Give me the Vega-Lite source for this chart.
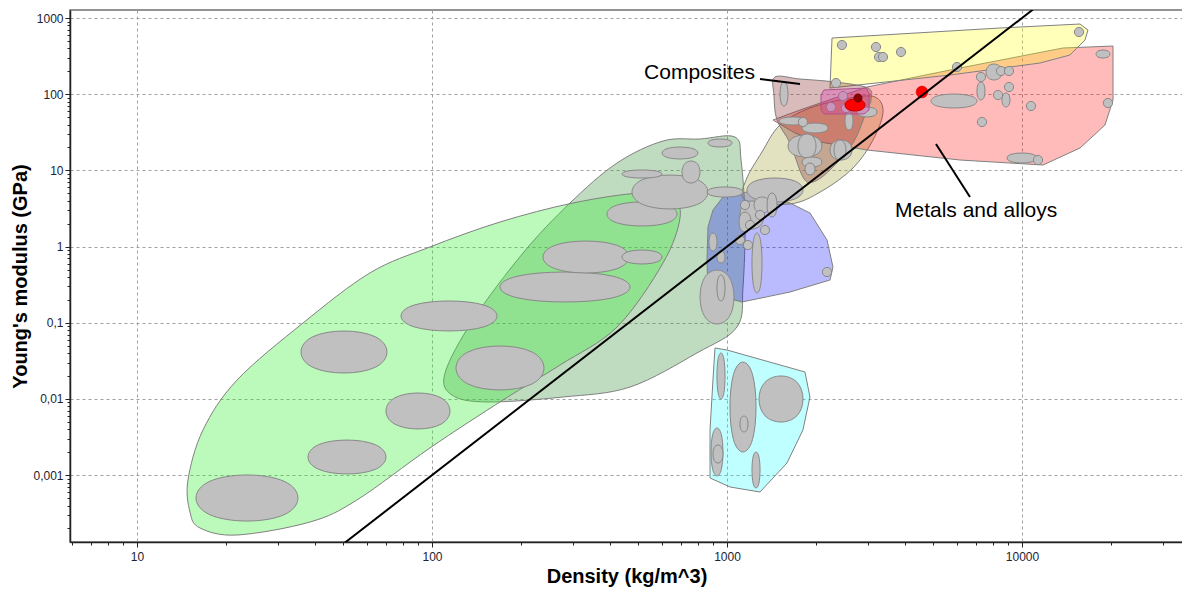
{
"$schema":"https://vega.github.io/schema/vega-lite/v6.json",
"width":1113,"height":532,
"autosize":{"type":"none"},
"padding":{"left":70,"top":10,"right":0,"bottom":47},
"background":"white",
"config":{"view":{"stroke":"#707070","strokeWidth":1.5},
"axis":{"domainColor":"#222","domainWidth":1.5,"tickColor":"#222","labelFont":"Liberation Sans","labelFontSize":12,"labelColor":"#222233","titleFont":"Liberation Sans","titleFontSize":20,"titleFontWeight":"bold","titleColor":"#000","gridColor":"#a0a0a0","gridDash":[3,3],"gridWidth":1,"labelOverlap":false,"labelFlush":false}},
"datasets":{
"regions":[
{"r":"gg","o":1,"x":1064,"y":27.44},{"r":"gg","o":2,"x":810,"y":25.83},{"r":"gg","o":3,"x":607,"y":24.31},{"r":"gg","o":4,"x":423.9,"y":12.51},{"r":"gg","o":5,"x":293.6,"y":3.733},{"r":"gg","o":6,"x":203.5,"y":0.824},{"r":"gg","o":7,"x":137.7,"y":0.109},{"r":"gg","o":8,"x":110.7,"y":0.0219},{"r":"gg","o":9,"x":116.9,"y":0.01127},{"r":"gg","o":10,"x":153.6,"y":0.00914},{"r":"gg","o":11,"x":278,"y":0.01062},{"r":"gg","o":12,"x":469.2,"y":0.01435},{"r":"gg","o":13,"x":791,"y":0.0402},{"r":"gg","o":14,"x":1081,"y":0.0881},{"r":"gg","o":15,"x":1133,"y":0.295},{"r":"gg","o":16,"x":1151,"y":2.234},{"r":"gg","o":17,"x":1116,"y":13.69},
{"r":"foam","o":1,"x":14.89,"y":0.000865},{"r":"foam","o":2,"x":15.12,"y":0.000329},{"r":"foam","o":3,"x":16.35,"y":0.000203},{"r":"foam","o":4,"x":21.83,"y":0.000164},{"r":"foam","o":5,"x":38.59,"y":0.000243},{"r":"foam","o":6,"x":55.68,"y":0.000473},{"r":"foam","o":7,"x":98.45,"y":0.00228},{"r":"foam","o":8,"x":174.1,"y":0.0097},{"r":"foam","o":9,"x":271.6,"y":0.0279},{"r":"foam","o":10,"x":423.9,"y":0.0881},{"r":"foam","o":11,"x":607,"y":0.61},{"r":"foam","o":12,"x":693,"y":2.371},{"r":"foam","o":13,"x":651.1,"y":4.345},{"r":"foam","o":14,"x":507.2,"y":5.047},{"r":"foam","o":15,"x":300.6,"y":3.733},{"r":"foam","o":16,"x":170.1,"y":2.104},{"r":"foam","o":17,"x":98.45,"y":0.989},{"r":"foam","o":18,"x":61.6,"y":0.451},{"r":"foam","o":19,"x":36.53,"y":0.0993},{"r":"foam","o":20,"x":21.83,"y":0.0177},{"r":"foam","o":21,"x":16.74,"y":0.00392},
{"r":"blue","o":1,"x":862.1,"y":1.807},{"r":"blue","o":2,"x":855.4,"y":0.667},{"r":"blue","o":3,"x":862.1,"y":0.246},{"r":"blue","o":4,"x":1124,"y":0.1875},{"r":"blue","o":5,"x":1635,"y":0.2535},{"r":"blue","o":6,"x":2235,"y":0.3648},{"r":"blue","o":7,"x":2287,"y":0.5395},{"r":"blue","o":8,"x":2183,"y":1.222},{"r":"blue","o":9,"x":1911,"y":2.761},{"r":"blue","o":10,"x":1635,"y":3.733},{"r":"blue","o":11,"x":1512,"y":4.093},{"r":"blue","o":12,"x":1169,"y":5.21},{"r":"blue","o":13,"x":969.2,"y":4.477},{"r":"blue","o":14,"x":896.3,"y":3.02},
{"r":"cyan","o":1,"x":910.5,"y":0.04671},{"r":"cyan","o":2,"x":1000,"y":0.04395},{"r":"cyan","o":3,"x":1838,"y":0.02261},{"r":"cyan","o":4,"x":1911,"y":0.01062},{"r":"cyan","o":5,"x":1809,"y":0.00392},{"r":"cyan","o":6,"x":1597,"y":0.001445},{"r":"cyan","o":7,"x":1294,"y":0.000602},{"r":"cyan","o":8,"x":1024,"y":0.0007},{"r":"cyan","o":9,"x":875.9,"y":0.000919},{"r":"cyan","o":10,"x":875.9,"y":0.00392},{"r":"cyan","o":11,"x":896.3,"y":0.0177},
{"r":"khaki","o":1,"x":1151,"y":4.093},{"r":"khaki","o":2,"x":1635,"y":3.622},{"r":"khaki","o":3,"x":2099,"y":5.37},{"r":"khaki","o":4,"x":2674,"y":10.75},{"r":"khaki","o":5,"x":3126,"y":25.06},{"r":"khaki","o":6,"x":3380,"y":58.4},{"r":"khaki","o":7,"x":3174,"y":91.9},{"r":"khaki","o":8,"x":2612,"y":89.15},{"r":"khaki","o":9,"x":1911,"y":65.9},{"r":"khaki","o":10,"x":1512,"y":39.4},{"r":"khaki","o":11,"x":1314,"y":17.43},{"r":"khaki","o":12,"x":1160,"y":7.48},
{"r":"metals","o":1,"x":1432,"y":45.85},{"r":"metals","o":2,"x":1768,"y":62.05},{"r":"metals","o":3,"x":2983,"y":124.3},{"r":"metals","o":4,"x":6163,"y":220.7},{"r":"metals","o":5,"x":13770,"y":404},{"r":"metals","o":6,"x":20350,"y":429},{"r":"metals","o":7,"x":20350,"y":83.9},{"r":"metals","o":8,"x":19110,"y":39.4},{"r":"metals","o":9,"x":15730,"y":19.68},{"r":"metals","o":10,"x":11780,"y":11.77},{"r":"metals","o":11,"x":6163,"y":13.69},{"r":"metals","o":12,"x":2983,"y":18.52},{"r":"metals","o":13,"x":2067,"y":23.59},{"r":"metals","o":14,"x":1700,"y":30.96},
{"r":"yellow","o":1,"x":2270,"y":546.5},{"r":"yellow","o":2,"x":8421,"y":739.3},{"r":"yellow","o":3,"x":15730,"y":834.1},{"r":"yellow","o":4,"x":16740,"y":695.8},{"r":"yellow","o":5,"x":16350,"y":514.3},{"r":"yellow","o":6,"x":14540,"y":326.9},{"r":"yellow","o":7,"x":11510,"y":256.7},{"r":"yellow","o":8,"x":5700,"y":178.6},{"r":"yellow","o":9,"x":2235,"y":120.6},
{"r":"comp","o":1,"x":1454,"y":168.2},{"r":"comp","o":2,"x":1768,"y":158.3},{"r":"comp","o":3,"x":2323,"y":144.6},{"r":"comp","o":4,"x":3006,"y":120.6},{"r":"comp","o":5,"x":3077,"y":83.9},{"r":"comp","o":6,"x":2983,"y":62.05},{"r":"comp","o":7,"x":2674,"y":22.88},{"r":"comp","o":8,"x":2235,"y":10.12},{"r":"comp","o":9,"x":1956,"y":7.043},{"r":"comp","o":10,"x":1809,"y":8.19},{"r":"comp","o":11,"x":1635,"y":22.88},{"r":"comp","o":12,"x":1477,"y":45.85},{"r":"comp","o":13,"x":1443,"y":97.6},
{"r":"mag","o":1,"x":2132,"y":113.5},{"r":"mag","o":2,"x":2960,"y":120.6},{"r":"mag","o":3,"x":3030,"y":103.7},{"r":"mag","o":4,"x":3030,"y":62.05},{"r":"mag","o":5,"x":2914,"y":54.99},{"r":"mag","o":6,"x":2132,"y":54.99},{"r":"mag","o":7,"x":2083,"y":62.05},{"r":"mag","o":8,"x":2083,"y":97.6}
],
"ell":[
{"g":"F1","o":1,"x":15.29,"y":0.001072},{"g":"F1","o":2,"x":36.42,"y":0.001072},{"g":"F1","o":3,"x":36.42,"y":0.000235},{"g":"F1","o":4,"x":15.29,"y":0.000235},
{"g":"F2","o":1,"x":36.96,"y":0.00303},{"g":"F2","o":2,"x":71.75,"y":0.00303},{"g":"F2","o":3,"x":71.75,"y":0.000991},{"g":"F2","o":4,"x":36.96,"y":0.000991},
{"g":"F3","o":1,"x":68.26,"y":0.01259},{"g":"F3","o":2,"x":117.7,"y":0.01259},{"g":"F3","o":3,"x":117.7,"y":0.00385},{"g":"F3","o":4,"x":68.26,"y":0.00385},
{"g":"F4","o":1,"x":34.89,"y":0.0826},{"g":"F4","o":2,"x":72.55,"y":0.0826},{"g":"F4","o":3,"x":72.55,"y":0.0207},{"g":"F4","o":4,"x":34.89,"y":0.0207},
{"g":"F5","o":1,"x":75.9,"y":0.2014},{"g":"F5","o":2,"x":171.8,"y":0.2014},{"g":"F5","o":3,"x":171.8,"y":0.075},{"g":"F5","o":4,"x":75.9,"y":0.075},
{"g":"F6","o":1,"x":116.9,"y":0.0527},{"g":"F6","o":2,"x":247.3,"y":0.0527},{"g":"F6","o":3,"x":247.3,"y":0.01236},{"g":"F6","o":4,"x":116.9,"y":0.01236},
{"g":"F7","o":1,"x":162.4,"y":0.4835},{"g":"F7","o":2,"x":491.3,"y":0.4835},{"g":"F7","o":3,"x":491.3,"y":0.18},{"g":"F7","o":4,"x":162.4,"y":0.18},
{"g":"F8","o":1,"x":230.7,"y":1.236},{"g":"F8","o":2,"x":479.7,"y":1.236},{"g":"F8","o":3,"x":479.7,"y":0.4315},{"g":"F8","o":4,"x":230.7,"y":0.4315},
{"g":"F9","o":1,"x":434.5,"y":0.919},{"g":"F9","o":2,"x":610.7,"y":0.919},{"g":"F9","o":3,"x":610.7,"y":0.5805},{"g":"F9","o":4,"x":434.5,"y":0.5805},
{"g":"F10","o":1,"x":382.3,"y":3.979},{"g":"F10","o":2,"x":694.2,"y":3.979},{"g":"F10","o":3,"x":694.2,"y":1.803},{"g":"F10","o":4,"x":382.3,"y":1.803},
{"g":"F11","o":1,"x":463.8,"y":9.105},{"g":"F11","o":2,"x":885.3,"y":9.105},{"g":"F11","o":3,"x":885.3,"y":2.978},{"g":"F11","o":4,"x":463.8,"y":2.978},
{"g":"F12","o":1,"x":699.5,"y":13.69},{"g":"F12","o":2,"x":815.1,"y":13.69},{"g":"F12","o":3,"x":815.1,"y":6.63},{"g":"F12","o":4,"x":699.5,"y":6.63},
{"g":"F13","o":1,"x":434.5,"y":10.24},{"g":"F13","o":2,"x":610.7,"y":10.24},{"g":"F13","o":3,"x":610.7,"y":7.85},{"g":"F13","o":4,"x":434.5,"y":7.85},
{"g":"F14","o":1,"x":594.7,"y":20.59},{"g":"F14","o":2,"x":807.4,"y":20.59},{"g":"F14","o":3,"x":807.4,"y":13.9},{"g":"F14","o":4,"x":594.7,"y":13.9},
{"g":"F15","o":1,"x":855,"y":26.14},{"g":"F15","o":2,"x":1049,"y":26.14},{"g":"F15","o":3,"x":1049,"y":20.04},{"g":"F15","o":4,"x":855,"y":20.04},
{"g":"F16","o":1,"x":845.1,"y":6.147},{"g":"F16","o":2,"x":1147,"y":6.147},{"g":"F16","o":3,"x":1147,"y":4.41},{"g":"F16","o":4,"x":845.1,"y":4.41},
{"g":"P1","o":1,"x":800.7,"y":0.53},{"g":"P1","o":2,"x":1069,"y":0.53},{"g":"P1","o":3,"x":1069,"y":0.0897},{"g":"P1","o":4,"x":800.7,"y":0.0897},
{"g":"P2","o":1,"x":921.9,"y":0.4395},{"g":"P2","o":2,"x":987.6,"y":0.4395},{"g":"P2","o":3,"x":987.6,"y":0.1864},{"g":"P2","o":4,"x":921.9,"y":0.1864},
{"g":"P3","o":1,"x":866.1,"y":1.545},{"g":"P3","o":2,"x":927.9,"y":1.545},{"g":"P3","o":3,"x":927.9,"y":0.855},{"g":"P3","o":4,"x":866.1,"y":0.855},
{"g":"P4","o":1,"x":921.9,"y":0.8888},{"g":"P4","o":2,"x":987.6,"y":0.8888},{"g":"P4","o":3,"x":987.6,"y":0.6},{"g":"P4","o":4,"x":921.9,"y":0.6},
{"g":"P5","o":1,"x":1146,"y":8.216},{"g":"P5","o":2,"x":1846,"y":8.216},{"g":"P5","o":3,"x":1846,"y":3.724},{"g":"P5","o":4,"x":1146,"y":3.724},
{"g":"P6","o":1,"x":1097,"y":4.126},{"g":"P6","o":2,"x":1347,"y":4.126},{"g":"P6","o":3,"x":1347,"y":1.637},{"g":"P6","o":4,"x":1097,"y":1.637},
{"g":"P7","o":1,"x":1228,"y":4.573},{"g":"P7","o":2,"x":1407,"y":4.573},{"g":"P7","o":3,"x":1407,"y":2.703},{"g":"P7","o":4,"x":1228,"y":2.703},
{"g":"P8","o":1,"x":1362,"y":5.222},{"g":"P8","o":2,"x":1483,"y":5.222},{"g":"P8","o":3,"x":1483,"y":2.366},{"g":"P8","o":4,"x":1362,"y":2.366},
{"g":"P9","o":1,"x":1094,"y":2.924},{"g":"P9","o":2,"x":1211,"y":2.924},{"g":"P9","o":3,"x":1211,"y":1.513},{"g":"P9","o":4,"x":1094,"y":1.513},
{"g":"P10","o":1,"x":1211,"y":1.637},{"g":"P10","o":2,"x":1319,"y":1.637},{"g":"P10","o":3,"x":1319,"y":0.2268},{"g":"P10","o":4,"x":1211,"y":0.2268},
{"g":"C1","o":1,"x":921.9,"y":0.04277},{"g":"C1","o":2,"x":987.6,"y":0.04277},{"g":"C1","o":3,"x":987.6,"y":0.009385},{"g":"C1","o":4,"x":921.9,"y":0.009385},
{"g":"C2","o":1,"x":1014,"y":0.0345},{"g":"C2","o":2,"x":1266,"y":0.0345},{"g":"C2","o":3,"x":1266,"y":0.001786},{"g":"C2","o":4,"x":1014,"y":0.001786},
{"g":"C3","o":1,"x":1103,"y":0.00611},{"g":"C3","o":2,"x":1182,"y":0.00611},{"g":"C3","o":3,"x":1182,"y":0.003612},{"g":"C3","o":4,"x":1103,"y":0.003612},
{"g":"C4","o":1,"x":1264,"y":0.02135},{"g":"C4","o":2,"x":1838,"y":0.02135},{"g":"C4","o":3,"x":1838,"y":0.004684},{"g":"C4","o":4,"x":1264,"y":0.004684},
{"g":"C5","o":1,"x":879.3,"y":0.004449},{"g":"C5","o":2,"x":973,"y":0.004449},{"g":"C5","o":3,"x":973,"y":0.000913},{"g":"C5","o":4,"x":879.3,"y":0.000913},
{"g":"C6","o":1,"x":893.2,"y":0.002551},{"g":"C6","o":2,"x":972.8,"y":0.002551},{"g":"C6","o":3,"x":972.8,"y":0.001411},{"g":"C6","o":4,"x":893.2,"y":0.001411},
{"g":"C7","o":1,"x":1212,"y":0.002116},{"g":"C7","o":2,"x":1298,"y":0.002116},{"g":"C7","o":3,"x":1298,"y":0.000647},{"g":"C7","o":4,"x":1212,"y":0.000647},
{"g":"K1","o":1,"x":1508,"y":149.4},{"g":"K1","o":2,"x":1615,"y":149.4},{"g":"K1","o":3,"x":1615,"y":67.71},{"g":"K1","o":4,"x":1508,"y":67.71},
{"g":"K6","o":1,"x":2739,"y":68.85},{"g":"K6","o":2,"x":3248,"y":68.85},{"g":"K6","o":3,"x":3248,"y":49.54},{"g":"K6","o":4,"x":2739,"y":49.54},
{"g":"K7","o":1,"x":2504,"y":59.83},{"g":"K7","o":2,"x":2683,"y":59.83},{"g":"K7","o":3,"x":2683,"y":33.09},{"g":"K7","o":4,"x":2504,"y":33.09},
{"g":"K8","o":1,"x":1486,"y":50.8},{"g":"K8","o":2,"x":1887,"y":50.8},{"g":"K8","o":3,"x":1887,"y":38.96},{"g":"K8","o":4,"x":1486,"y":38.96},
{"g":"K10","o":1,"x":1779,"y":42.46},{"g":"K10","o":2,"x":2221,"y":42.46},{"g":"K10","o":3,"x":2221,"y":30.54},{"g":"K10","o":4,"x":1779,"y":30.54},
{"g":"K11","o":1,"x":1591,"y":30.04},{"g":"K11","o":2,"x":2124,"y":30.04},{"g":"K11","o":3,"x":2124,"y":14.55},{"g":"K11","o":4,"x":1591,"y":14.55},
{"g":"K12","o":1,"x":1730,"y":31.05},{"g":"K12","o":2,"x":2016,"y":31.05},{"g":"K12","o":3,"x":2016,"y":14.07},{"g":"K12","o":4,"x":1730,"y":14.07},
{"g":"K13","o":1,"x":2218,"y":25.75},{"g":"K13","o":2,"x":2674,"y":25.75},{"g":"K13","o":3,"x":2674,"y":13.32},{"g":"K13","o":4,"x":2218,"y":13.32},
{"g":"K14","o":1,"x":2296,"y":25.75},{"g":"K14","o":2,"x":2542,"y":25.75},{"g":"K14","o":3,"x":2542,"y":13.32},{"g":"K14","o":4,"x":2296,"y":13.32},
{"g":"K15","o":1,"x":1783,"y":15.2},{"g":"K15","o":2,"x":2114,"y":15.2},{"g":"K15","o":3,"x":2114,"y":10.93},{"g":"K15","o":4,"x":1783,"y":10.93},
{"g":"K16","o":1,"x":1832,"y":12.7},{"g":"K16","o":2,"x":1995,"y":12.7},{"g":"K16","o":3,"x":1995,"y":8.575},{"g":"K16","o":4,"x":1832,"y":8.575},
{"g":"M1","o":1,"x":4835,"y":102.4},{"g":"M1","o":2,"x":7154,"y":102.4},{"g":"M1","o":3,"x":7154,"y":64.71},{"g":"M1","o":4,"x":4835,"y":64.71},
{"g":"M3","o":1,"x":7015,"y":148.1},{"g":"M3","o":2,"x":7514,"y":148.1},{"g":"M3","o":3,"x":7514,"y":81.9},{"g":"M3","o":4,"x":7015,"y":81.9},
{"g":"M4","o":1,"x":7510,"y":254.4},{"g":"M4","o":2,"x":8602,"y":254.4},{"g":"M4","o":3,"x":8602,"y":150.4},{"g":"M4","o":4,"x":7510,"y":150.4},
{"g":"M8","o":1,"x":8527,"y":105.6},{"g":"M8","o":2,"x":9135,"y":105.6},{"g":"M8","o":3,"x":9135,"y":66.7},{"g":"M8","o":4,"x":8527,"y":66.7},
{"g":"M12","o":1,"x":17740,"y":384.9},{"g":"M12","o":2,"x":19970,"y":384.9},{"g":"M12","o":3,"x":19970,"y":295},{"g":"M12","o":4,"x":17740,"y":295},
{"g":"M14","o":1,"x":8802,"y":17.16},{"g":"M14","o":2,"x":11360,"y":17.16},{"g":"M14","o":3,"x":11360,"y":12.34},{"g":"M14","o":4,"x":8802,"y":12.34}
],
"redell":[
{"g":"R1","o":1,"x":2494,"y":87.83},{"g":"R1","o":2,"x":2957,"y":87.83},{"g":"R1","o":3,"x":2957,"y":59.29},{"g":"R1","o":4,"x":2494,"y":59.29}
],
"dots":[
{"x":2342,"y":140.3},{"x":2252,"y":67.92},{"x":2474,"y":94.7},{"x":2532,"y":65.9},{"x":1809,"y":43.17},{"x":2183,"y":0.4642},
{"x":2454,"y":442.3},{"x":3200,"y":416.3},{"x":3276,"y":307.7},{"x":3380,"y":307.7},{"x":3889,"y":357.9},{"x":15610,"y":655.1},{"x":6022,"y":227.5},
{"x":7261,"y":168.2},{"x":8488,"y":201.6},{"x":9035,"y":201.6},{"x":8292,"y":97.6},{"x":9035,"y":124.3},{"x":7318,"y":43.17},{"x":10730,"y":70.0},{"x":19560,"y":76.64},{"x":11330,"y":13.69},
{"x":1151,"y":3.516},{"x":1197,"y":1.921},{"x":1294,"y":2.598},{"x":1345,"y":1.651},{"x":1107,"y":1.222},{"x":1178,"y":1.049}
],
"reddots":[{"k":"dark","x":2780,"y":89.15},{"k":"red","x":4581,"y":106.9}],
"guide":[{"o":1,"x":40,"y":0.000064},{"o":2,"x":12000,"y":1728}],
"leaders":[{"g":"c","x":1294,"y":158.3},{"g":"c","x":1768,"y":136.1},{"g":"m","x":5110,"y":22.21},{"g":"m","x":6663,"y":4.477}],
"labels":[{"t":"Composites","x":1244,"y":189.8,"side":"r"},{"t":"Metals and alloys","x":3711,"y":2.932,"side":"l"}]
},
"encoding":{
"x":{"field":"x","type":"quantitative","scale":{"type":"log","domain":[5.928,35140],"nice":false},
"axis":{"title":"Density (kg/m^3)","titlePadding":4,"labelPadding":4,"grid":true,
"values":[6,7,8,9,10,20,30,40,50,60,70,80,90,100,200,300,400,500,600,700,800,900,1000,2000,3000,4000,5000,6000,7000,8000,9000,10000,20000,30000],
"gridOpacity":{"condition":{"test":"abs(log(datum.value)/LN10 - round(log(datum.value)/LN10)) < 0.01","value":1},"value":0},
"tickSize":{"condition":{"test":"abs(log(datum.value)/LN10 - round(log(datum.value)/LN10)) < 0.01","value":5},"value":3},
"labelExpr":"abs(log(datum.value)/LN10 - round(log(datum.value)/LN10)) < 0.01 ? replace('' + datum.value, '.', ',') : ''"}},
"y":{"field":"y","type":"quantitative","scale":{"type":"log","domain":[0.0001328,1274],"nice":false},
"axis":{"title":"Young's modulus (GPa)","titlePadding":2,"labelPadding":2,"grid":true,
"values":[0.0002,0.0003,0.0004,0.0005,0.0006,0.0007,0.0008,0.0009,0.001,0.002,0.003,0.004,0.005,0.006,0.007,0.008,0.009,0.01,0.02,0.03,0.04,0.05,0.06,0.07,0.08,0.09,0.1,0.2,0.3,0.4,0.5,0.6,0.7,0.8,0.9,1,2,3,4,5,6,7,8,9,10,20,30,40,50,60,70,80,90,100,200,300,400,500,600,700,800,900,1000],
"gridOpacity":{"condition":{"test":"abs(log(datum.value)/LN10 - round(log(datum.value)/LN10)) < 0.01","value":1},"value":0},
"tickSize":{"condition":{"test":"abs(log(datum.value)/LN10 - round(log(datum.value)/LN10)) < 0.01","value":5},"value":3},
"labelExpr":"abs(log(datum.value)/LN10 - round(log(datum.value)/LN10)) < 0.01 ? replace('' + datum.value, '.', ',') : ''"}}
},
"layer":[
{"data":{"name":"regions"},"transform":[{"filter":"datum.r=='gg'"}],"mark":{"type":"line","interpolate":"cardinal-closed","fill":"#4b9b4b","fillOpacity":0.35,"stroke":"#808080","strokeWidth":1},"encoding":{"order":{"field":"o","type":"quantitative"}}},
{"data":{"name":"regions"},"transform":[{"filter":"datum.r=='foam'"}],"mark":{"type":"line","interpolate":"cardinal-closed","fill":"#2bf02b","fillOpacity":0.32,"stroke":"#808080","strokeWidth":1},"encoding":{"order":{"field":"o","type":"quantitative"}}},
{"data":{"name":"regions"},"transform":[{"filter":"datum.r=='blue'"}],"mark":{"type":"line","interpolate":"linear-closed","fill":"#0000ff","fillOpacity":0.27,"stroke":"#808080","strokeWidth":1},"encoding":{"order":{"field":"o","type":"quantitative"}}},
{"data":{"name":"regions"},"transform":[{"filter":"datum.r=='cyan'"}],"mark":{"type":"line","interpolate":"linear-closed","fill":"#00ffff","fillOpacity":0.25,"stroke":"#808080","strokeWidth":1},"encoding":{"order":{"field":"o","type":"quantitative"}}},
{"data":{"name":"regions"},"transform":[{"filter":"datum.r=='khaki'"}],"mark":{"type":"line","interpolate":"cardinal-closed","fill":"#a09a30","fillOpacity":0.3,"stroke":"#808080","strokeWidth":1},"encoding":{"order":{"field":"o","type":"quantitative"}}},
{"data":{"name":"regions"},"transform":[{"filter":"datum.r=='metals'"}],"mark":{"type":"line","interpolate":"linear-closed","fill":"#ff0000","fillOpacity":0.27,"stroke":"#808080","strokeWidth":1},"encoding":{"order":{"field":"o","type":"quantitative"}}},
{"data":{"name":"regions"},"transform":[{"filter":"datum.r=='yellow'"}],"mark":{"type":"line","interpolate":"linear-closed","fill":"#ffff00","fillOpacity":0.27,"stroke":"#808080","strokeWidth":1},"encoding":{"order":{"field":"o","type":"quantitative"}}},
{"data":{"name":"regions"},"transform":[{"filter":"datum.r=='comp'"}],"mark":{"type":"line","interpolate":"cardinal-closed","fill":"#8c3030","fillOpacity":0.33,"stroke":"#808080","strokeWidth":1},"encoding":{"order":{"field":"o","type":"quantitative"}}},
{"data":{"name":"ell"},"mark":{"type":"line","interpolate":"basis-closed","fill":"#c0c0c0","stroke":"#888888","strokeWidth":1},"encoding":{"detail":{"field":"g"},"order":{"field":"o","type":"quantitative"}}},
{"data":{"name":"dots"},"mark":{"type":"point","shape":"circle","filled":true,"fill":"#c0c0c0","stroke":"#888888","strokeWidth":1,"opacity":1,"size":85}},
{"data":{"name":"regions"},"transform":[{"filter":"datum.r=='mag'"}],"mark":{"type":"line","interpolate":"linear-closed","fill":"#e030b0","fillOpacity":0.3,"stroke":"#b05090","strokeWidth":1},"encoding":{"order":{"field":"o","type":"quantitative"}}},
{"data":{"name":"redell"},"mark":{"type":"line","interpolate":"basis-closed","fill":"#ff0000","stroke":"#c00000","strokeWidth":1},"encoding":{"detail":{"field":"g"},"order":{"field":"o","type":"quantitative"}}},
{"data":{"name":"reddots"},"transform":[{"filter":"datum.k=='dark'"}],"mark":{"type":"point","shape":"circle","filled":true,"fill":"#8b0000","stroke":"#600000","strokeWidth":0.5,"opacity":1,"size":70}},
{"data":{"name":"reddots"},"transform":[{"filter":"datum.k=='red'"}],"mark":{"type":"point","shape":"circle","filled":true,"fill":"#ff0000","stroke":"#c00000","strokeWidth":0.5,"opacity":1,"size":140}},
{"data":{"name":"guide"},"mark":{"type":"line","color":"#000000","strokeWidth":2,"clip":true},"encoding":{"order":{"field":"o","type":"quantitative"}}},
{"data":{"name":"leaders"},"mark":{"type":"line","color":"#000000","strokeWidth":2},"encoding":{"detail":{"field":"g"}}},
{"data":{"name":"labels"},"transform":[{"filter":"datum.side=='r'"}],"mark":{"type":"text","align":"right","baseline":"middle","font":"Liberation Sans","fontSize":21,"color":"#000"},"encoding":{"text":{"field":"t"}}},
{"data":{"name":"labels"},"transform":[{"filter":"datum.side=='l'"}],"mark":{"type":"text","align":"left","baseline":"middle","font":"Liberation Sans","fontSize":21,"color":"#000"},"encoding":{"text":{"field":"t"}}}
]
}
